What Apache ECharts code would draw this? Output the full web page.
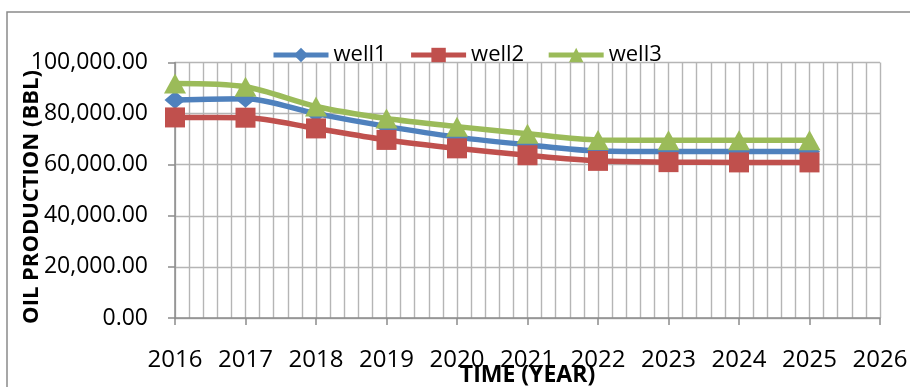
<!DOCTYPE html>
<html>
<head>
<meta charset="utf-8">
<style>
  html, body { margin: 0; padding: 0; background: #ffffff; }
  #chart { width: 910px; height: 387px; }
</style>
<script src="https://cdn.jsdelivr.net/npm/echarts@6/dist/echarts.min.js"></script>
</head>
<body>
<div id="chart"></div>
<script>
// Yearly oil production forecast for three wells
const years = [2016, 2017, 2018, 2019, 2020, 2021, 2022, 2023, 2024, 2025];
const well1 = [85300, 85800, 80000, 75000, 70800, 67800, 65400, 65200, 65200, 65200];
const well2 = [78500, 78400, 74200, 69700, 66400, 63700, 61500, 61000, 60900, 60900];
const well3 = [91800, 90500, 82800, 78100, 74900, 72100, 69700, 69600, 69600, 69600];
const yTicks = [0, 20000, 40000, 60000, 80000, 100000];
const yTitle = 'OIL PRODUCTION (BBL)';
const xTitle = 'TIME (YEAR)';

const FONT = '"Open Sans", "Noto Sans", sans-serif';
const gridGray = '#b5b5b5';
const axisGray = '#8c8c8c';

function pairs(vals) {
  return years.map((y, i) => [y, vals[i]]);
}

function fmtY(v) {
  return Number(v).toLocaleString('en-US', { minimumFractionDigits: 2, maximumFractionDigits: 2 });
}

const chart = echarts.init(document.getElementById('chart'), null, { renderer: 'canvas' });

const seriesDefs = [
  { name: 'well1', data: well1, color: '#4F81BD', symbol: 'diamond', size: [21, 18] },
  { name: 'well2', data: well2, color: '#C0504D', symbol: 'rect', size: 20 },
  { name: 'well3', data: well3, color: '#9BBB59', symbol: 'triangle', size: [22, 20] }
];

chart.setOption({
  animation: false,
  backgroundColor: '#ffffff',
  textStyle: { fontFamily: FONT },
  graphic: [
    {
      type: 'rect',
      shape: { x: 7, y: 12, width: 960, height: 420 },
      style: { fill: 'none', stroke: '#8a8a8a', lineWidth: 1.5 },
      silent: true,
      z: -10
    },
    {
      // vertical axis title, rotated to read bottom-up
      type: 'text',
      x: 32,
      y: 197,
      rotation: Math.PI / 2,
      silent: true,
      style: {
        text: yTitle,
        fontFamily: FONT,
        fontSize: 22,
        fontWeight: 'bold',
        fill: '#000',
        align: 'center',
        verticalAlign: 'middle'
      }
    }
  ],
  grid: { left: 175, right: 30, top: 62.5, bottom: 69, containLabel: false, outerBoundsMode: 'none' },
  legend: {
    left: 266,
    top: 39,
    itemWidth: 55,
    itemHeight: 18,
    itemGap: 22,
    lineStyle: { width: 5 },
    textStyle: { fontFamily: FONT, fontSize: 22, color: '#000' },
    data: seriesDefs.map(s => s.name)
  },
  xAxis: {
    type: 'value',
    min: 2016,
    max: 2026,
    interval: 1,
    name: xTitle,
    nameLocation: 'middle',
    nameGap: 46,
    nameMoveOverlap: false,
    nameTextStyle: { fontFamily: FONT, fontSize: 23, fontWeight: 'bold', color: '#000' },
    axisLine: { show: true, lineStyle: { color: axisGray, width: 1.5 } },
    axisTick: { show: true, inside: false, length: 7, lineStyle: { color: axisGray, width: 1.5 } },
    axisLabel: { fontFamily: FONT, fontSize: 24, color: '#000', margin: 30, formatter: v => String(v) },
    splitLine: { show: true, lineStyle: { color: gridGray, width: 1.4 } },
    minorTick: { show: true, splitNumber: 5, length: 0 },
    minorSplitLine: { show: true, lineStyle: { color: gridGray, width: 1.4 } }
  },
  yAxis: {
    type: 'value',
    min: 0,
    max: 100000,
    interval: 20000,
    axisLine: { show: true, lineStyle: { color: axisGray, width: 1.5 } },
    axisTick: { show: true, inside: false, length: 7, lineStyle: { color: axisGray, width: 1.5 } },
    axisLabel: {
      fontFamily: FONT, fontSize: 23, color: '#000', margin: 27,
      formatter: v => yTicks.includes(v) ? fmtY(v) : ''
    },
    splitLine: { show: true, lineStyle: { color: gridGray, width: 1.4 } }
  },
  series: seriesDefs.map(s => ({
    name: s.name,
    type: 'line',
    smooth: 0.3,
    data: pairs(s.data),
    symbol: s.symbol,
    symbolSize: s.size,
    showSymbol: true,
    color: s.color,
    lineStyle: { color: s.color, width: 5.5 },
    itemStyle: { color: s.color, borderWidth: 0 },
    emphasis: { disabled: true },
    z: 3
  }))
});
</script>
</body>
</html>
